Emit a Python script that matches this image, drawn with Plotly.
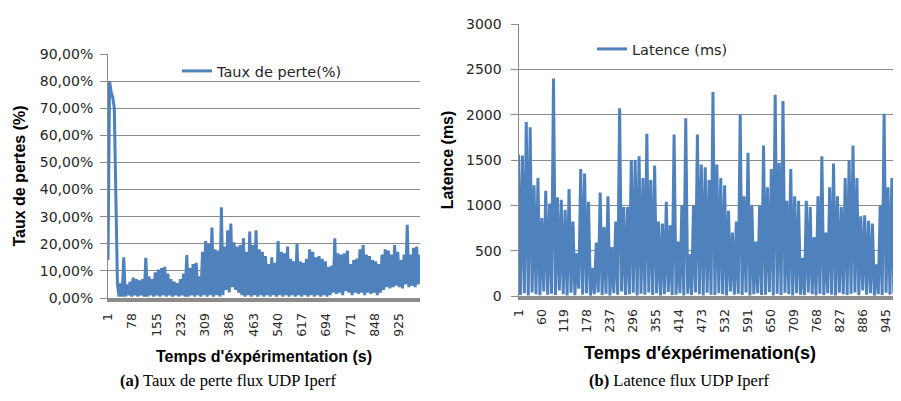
import plotly.graph_objects as go

# ---------------- data ----------------
# Loss rate (%) -- values at t = 1, 11, 21, ... (10 s apart)
loss_pct_t1 = [14, 76, 70, 5, 5.5, 15, 5, 6, 7.5, 7,
               6.5, 7, 14.8, 8, 7, 9.5, 10.5, 11, 11.5, 9,
               7, 6, 5.5, 7, 9, 15.8, 11, 12.5, 13, 8,
               17, 21, 20, 26, 18, 17.5, 33.5, 19, 25, 27.5,
               20.5, 19, 19.5, 22, 17, 24.5, 19.5, 25, 18, 17,
               15.5, 12.5, 15, 13, 21, 17, 16.5, 19, 14.5, 13.5,
               20, 13.5, 13, 14.5, 18, 17, 15, 15.5, 14.5, 13.5,
               11.5, 12, 22, 16.5, 16, 16.5, 17.5, 12.5, 14, 14.5,
               18, 19.5, 16, 15.5, 14, 13.5, 12.5, 16, 18, 17.5,
               16, 19.5, 17, 14, 16, 27, 16, 18.5, 19, 16]
# Loss rate (%) -- values at t = 6, 16, 26, ...
loss_pct_t6 = [80, 74, 28, 0.5, 0.5, 0.5, 1, 0.5, 1, 0.5,
               1, 0.5, 0.5, 1, 0.5, 1, 0.5, 1, 0.5, 1,
               0.5, 1, 0.5, 1, 0.5, 0.5, 1, 0.5, 1, 0.5,
               1, 0.5, 1, 0.5, 1, 0.5, 1, 3, 2, 4,
               3, 2, 1, 0.5, 1, 0.5, 1, 0.5, 1, 0.5,
               1, 0.5, 1, 0.5, 1, 0.5, 1, 0.5, 1, 0.5,
               1, 0.5, 1, 0.5, 1, 0.5, 1, 0.5, 1, 0.5,
               1, 2, 1.5, 2, 1, 2.5, 2, 1, 2, 1.5,
               2, 1, 2, 1.5, 2, 1, 2, 3, 4, 3.5,
               4, 4.5, 4, 3.5, 5, 4, 4.5, 4, 5]

# Latency (ms) -- values at t = 1, 11, 21, ...
lat_ms_t1 = [1560, 1550, 1920, 1860, 1220, 1300, 860, 1160, 1020, 2400,
             1090, 1060, 950, 1180, 820, 470, 1400, 1350, 1040, 310,
             590, 1140, 760, 1100, 540, 820, 2070, 980, 980, 1500,
             1500, 1540, 1300, 1790, 1280, 1440, 820, 800, 1040, 780,
             1780, 600, 1000, 1960, 460, 1000, 1780, 1450, 1420, 1280,
             2250, 1450, 1300, 1220, 940, 700, 820, 2000, 1100, 1580,
             1000, 600, 1000, 1660, 1200, 1400, 2220, 1470, 2150, 1050,
             1400, 1100, 1050, 420, 1050, 980, 650, 1100, 1540, 700,
             1200, 1460, 1100, 980, 1300, 1500, 1660, 1300, 880, 890,
             830, 800, 350, 1000, 2010, 1200, 1300, 1040, 900]
# Latency (ms) -- values at t = 6, 16, 26, ...
lat_ms_t6 = [10, 30, 5, 40, 20, 8, 50, 15, 25, 10,
             60, 20, 5, 35, 10, 80, 15, 30, 5, 20,
             40, 10, 25, 5, 30, 15, 50, 10, 20, 35,
             5, 25, 15, 40, 10, 30, 5, 20, 45, 10,
             15, 30, 5, 25, 10, 40, 20, 5, 35, 15,
             10, 30, 20, 5, 50, 15, 25, 10, 40, 5,
             20, 30, 10, 15, 45, 5, 25, 10, 35, 20,
             5, 30, 15, 10, 40, 20, 5, 25, 10, 30,
             15, 5, 35, 20, 10, 25, 40, 10, 60, 15,
             30, 5, 20, 10, 35, 15, 25, 10]

loss_xticks = ["1", "78", "155", "232", "309", "386", "463", "540", "617",
               "694", "771", "848", "925"]
lat_xticks = ["1", "60", "119", "178", "237", "296", "355", "414", "473",
              "532", "591", "650", "709", "768", "827", "886", "945"]
loss_yvals = [0, 10, 20, 30, 40, 50, 60, 70, 80, 90]
loss_yticks = ["0,00%", "10,00%", "20,00%", "30,00%", "40,00%", "50,00%",
               "60,00%", "70,00%", "80,00%", "90,00%"]
lat_yvals = [0, 500, 1000, 1500, 2000, 2500, 3000]
lat_yticks = ["0", "500", "1000", "1500", "2000", "2500", "3000"]


def interleave(a, b):
    out = []
    for i, v in enumerate(a):
        out.append(v)
        if i < len(b):
            out.append(b[i])
    return out


loss = interleave(loss_pct_t1, loss_pct_t6)
loss_t = [1 + 5 * i for i in range(len(loss))]
lat = interleave(lat_ms_t1, lat_ms_t6)
lat_t = [1 + 5 * i for i in range(len(lat))]

# ---------------- figure ----------------
W, H = 901, 401
OFF = 8  # page body margin in the browser
BLUE = "#4F81BD"
GRID = "#8c8c8c"
TXT = "#262626"
SANS = "DejaVu Sans"
BOLD = "Liberation Sans"


def px_x(p):
    return (p - OFF) / W


def px_y(p):
    return 1 - (p - OFF) / H


fig = go.Figure()
fig.add_trace(go.Scatter(x=loss_t, y=loss, mode="lines", name="Taux de perte(%)",
                         line=dict(color=BLUE, width=3), xaxis="x", yaxis="y",
                         legend="legend", hoverinfo="skip"))
fig.add_trace(go.Scatter(x=lat_t, y=lat, mode="lines", name="Latence (ms)",
                         line=dict(color=BLUE, width=3), xaxis="x2", yaxis="y2",
                         legend="legend2", hoverinfo="skip"))

common_x = dict(type="linear", showgrid=False, zeroline=False, showline=True,
                linecolor=GRID, linewidth=4, ticks="", tickangle=-90, automargin=False,
                tickfont=dict(family=SANS, size=12.5, color=TXT))
common_y = dict(showgrid=True, gridcolor=GRID, gridwidth=1, zeroline=False,
                showline=True, linecolor=GRID, linewidth=1, ticks="outside",
                ticklen=7, tickcolor=GRID, tickwidth=1, automargin=False,
                tickfont=dict(family=SANS, size=14, color=TXT))

fig.update_layout(
    width=W, height=H, margin=dict(l=0, r=0, t=0, b=0, autoexpand=False),
    paper_bgcolor="white", plot_bgcolor="white", showlegend=True,
    xaxis=dict(common_x, domain=[px_x(108), px_x(420)], range=[1, 991.5],
               tickvals=[int(v) for v in loss_xticks], ticktext=loss_xticks,
               anchor="y", ticklabelstandoff=6,
               title=dict(text="<b>Temps d'éxpérimentation (s)</b>", standoff=16,
                          font=dict(family=BOLD, size=16, color="black"))),
    yaxis=dict(common_y, domain=[px_y(298), px_y(54)], range=[0, 90],
               tickvals=loss_yvals, ticktext=loss_yticks, anchor="x",
               ticklabelstandoff=4,
               title=dict(text="<b>Taux de pertes (%)</b>", standoff=10,
                          font=dict(family=BOLD, size=16, color="black"))),
    xaxis2=dict(common_x, domain=[px_x(518.5), 1.0], range=[1, 1005],
                tickvals=[int(v) for v in lat_xticks], ticktext=lat_xticks,
                anchor="y2", ticklabelstandoff=4),
    yaxis2=dict(common_y, domain=[px_y(296), px_y(24)], range=[0, 3000],
                tickvals=lat_yvals, ticktext=lat_yticks, anchor="x2",
                ticklabelstandoff=6,
                title=dict(text="<b>Latence (ms)</b>", standoff=8,
                           font=dict(family=BOLD, size=16, color="black"))),
    legend=dict(x=px_x(177), y=px_y(71), xanchor="left", yanchor="middle",
                bgcolor="rgba(0,0,0,0)", borderwidth=0,
                font=dict(family=SANS, size=14.5, color=TXT)),
    legend2=dict(x=px_x(592), y=px_y(49), xanchor="left", yanchor="middle",
                 bgcolor="rgba(0,0,0,0)", borderwidth=0,
                 font=dict(family=SANS, size=14.5, color=TXT)),
    annotations=[
        dict(text="<b>Temps d'éxpérimenation(s)</b>", x=px_x(700), y=px_y(353),
             xref="paper", yref="paper", showarrow=False, xanchor="center", yanchor="middle",
             font=dict(family=BOLD, size=18, color="black")),
        dict(text="<b>(a)</b> Taux de perte flux UDP Iperf", x=px_x(228), y=px_y(380),
             xref="paper", yref="paper", showarrow=False, xanchor="center", yanchor="middle",
             font=dict(family="Liberation Serif", size=16.5, color="black")),
        dict(text="<b>(b)</b> Latence flux UDP Iperf", x=px_x(679), y=px_y(380),
             xref="paper", yref="paper", showarrow=False, xanchor="center", yanchor="middle",
             font=dict(family="Liberation Serif", size=16.5, color="black")),
    ],
)

fig.write_html("out.html")
